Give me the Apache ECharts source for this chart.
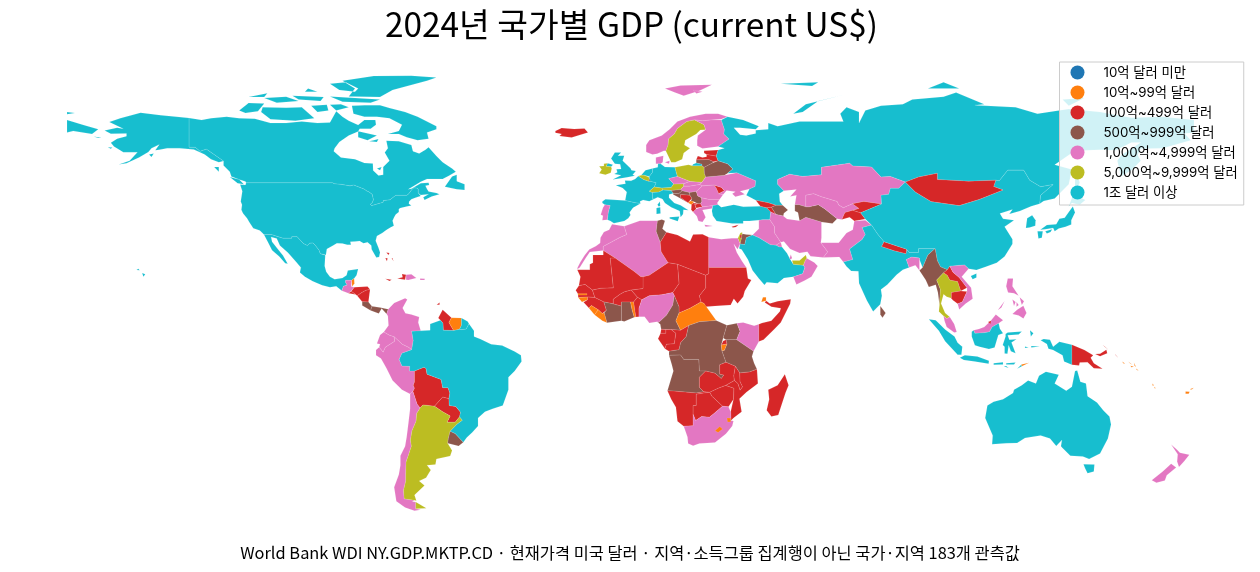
<!DOCTYPE html>
<html>
<head>
<meta charset="utf-8">
<title>2024 GDP</title>
<script src="https://cdn.jsdelivr.net/npm/echarts@6/dist/echarts.min.js"></script>
<style>html,body{margin:0;background:#fff}#main{width:1260px;height:572px}</style>
</head>
<body>
<div id="main"></div>
<script>
// GDP 구간 라벨과 색
const classLabels = ['10억 달러 미만','10억~99억 달러','100억~499억 달러','500억~999억 달러','1,000억~4,999억 달러','5,000억~9,999억 달러','1조 달러 이상'];
const classColors = ['#1f77b4','#ff7f0e','#d62728','#8c564b','#e377c2','#bcbd22','#17becf'];

// 구간별 국가
const under1 = ['Tuvalu'];
const from1to10 = ['Belize','Suriname','Gambia','Guinea-Bissau','Sierra Leone','Liberia','Togo','Central African Rep.','Burundi','Lesotho','Eswatini','Djibouti','Montenegro','Timor-Leste','Solomon Is.','Vanuatu','Fiji'];
const from10to50 = ['Honduras','El Salvador','Nicaragua','Bahamas','Jamaica','Haiti','Trinidad','Guyana','Bolivia','Paraguay','Iceland','Estonia','Latvia','Moldova','Bosnia','Kosovo','Albania','N. Macedonia','Cyprus','Georgia','Armenia','Palestine','Tajikistan','Kyrgyzstan','Mongolia','Nepal','Laos','Cambodia','Brunei','Papua New Guinea','Libya','Sudan','Chad','Niger','Mali','Mauritania','Senegal','Guinea','Burkina Faso','Benin','Gabon','Eq. Guinea','Congo','Rwanda','Zambia','Malawi','Mozambique','Zimbabwe','Botswana','Namibia','Madagascar','Somalia'];
const from50to100 = ['Costa Rica','Panama','Uruguay','Belarus','Lithuania','Luxembourg','Slovenia','Croatia','Serbia','Azerbaijan','Jordan','Turkmenistan','Myanmar','Sri Lanka','Tunisia',"Cote d'Ivoire",'Ghana','Cameroon','Dem. Rep. Congo','Uganda','Tanzania','Angola'];
const from100to500 = ['Guatemala','Dominican Rep.','Puerto Rico','Colombia','Ecuador','Peru','Chile','Norway','Denmark','Finland','Portugal','Greece','Czechia','Slovakia','Hungary','Bulgaria','Romania','Ukraine','Kazakhstan','Uzbekistan','Iran','Iraq','Kuwait','Qatar','Oman','Pakistan','Bangladesh','Vietnam','Malaysia','Philippines','New Zealand','Morocco','Algeria','Egypt','Nigeria','Kenya','South Africa'];
const from500to1000 = ['Argentina','Ireland','Belgium','Switzerland','Austria','Sweden','Poland','Israel','United Arab Emirates','Thailand'];
const over1000 = ['United States','Canada','Mexico','Brazil','United Kingdom','France','Germany','Netherlands','Italy','Spain','Russia','Turkey','Saudi Arabia','India','China','Japan','South Korea','Indonesia','Australia'];
const classMembers = [under1, from1to10, from10to50, from50to100, from100to500, from500to1000, over1000];

// 단순화한 국가 윤곽 (경도 위도 순)
const outlines = {
'United States':[
'-124.7 48.4 -123 48.3 -122.8 49 -95.2 49 -94.6 48.7 -92.5 48.5 -89.6 48 -88.4 48.3 -84.9 46.9 -84.5 46.5 -83.6 46.1 -82.5 45.3 -82.1 43.6 -82.5 42.6 -83.1 42.1 -82.7 41.7 -79 42.8 -79 43.3 -76.8 43.6 -75 45 -71.5 45 -71 45.3 -70.3 46.2 -70 46.7 -69.2 47.4 -68.3 47.3 -67.8 47 -67.8 45.7 -67 44.8 -68.5 44.3 -70 43.7 -70.7 43 -70.8 42.3 -70 41.7 -71.5 41.4 -73.5 40.9 -74 40.6 -74 39.7 -75 38.9 -75.5 38 -76 36.9 -75.6 35.3 -76.7 34.7 -78 33.9 -79.3 33 -81 32 -81.4 30.5 -80.5 28.3 -80 26.8 -80.3 25.3 -81.2 25.2 -81.8 26.2 -82.7 27.8 -82.8 29 -84 30 -85.3 29.7 -86.5 30.4 -88 30.3 -89.5 30.2 -89.3 29.2 -90.5 29.2 -92 29.6 -93.8 29.7 -95 29 -97 27.9 -97.3 26 -97.5 25.9 -99.1 26.4 -99.5 27.5 -100.6 28.9 -101.4 29.8 -102.5 29.7 -103.2 29 -104.5 29.6 -106.5 31.8 -108.2 31.8 -108.2 31.3 -111 31.3 -114.8 32.5 -117.1 32.5 -118.4 33.8 -120.5 34.5 -121.8 36.5 -122.5 37.7 -123.8 39.3 -124.3 40.4 -124.1 42 -124.5 43 -124 46.3',
'-141 69.6 -141 60.3 -139 60.3 -137.5 59 -135.5 59.7 -133 58 -130 55.9 -131.5 55.5 -134 56.5 -136 58 -139.5 59.6 -144 60 -148 60 -150.5 59.5 -151.8 59.3 -150.5 61.2 -153 60 -154 58.8 -157 57 -161 55.2 -163.5 54.8 -160 56 -157.5 58.7 -162 58.7 -165 60.5 -166 61.7 -164 63 -161 63.8 -161 64.7 -166 64.6 -168 65.6 -164 66.5 -162 66.2 -166.5 68.3 -163 69.5 -156.5 71.3 -150 70.5 -145 70',
'-171.5 63.7 -169 63.3 -170 63.2','-167 60.3 -165.5 60.2 -166 59.8','-153.8 58 -152.3 58.3 -153 57.2',
'-156 20.2 -155 19.8 -155.6 19','-157.2 21.6 -156.8 21.1 -157.8 21.2','-159.7 22.2 -159.3 22 -159.5 21.8','-160.3 22 -160 21.9 -160.1 21.7'],
Canada:[
'-141 69.6 -137 69 -134 69.5 -129 70 -125 69.5 -120 69.4 -115 68 -110 68 -105 68.5 -100 68 -96 68.2 -94 71.8 -92 70 -90 68.7 -87 67.4 -85 69 -81.5 69 -81.3 67.5 -83 66.2 -86.5 66.2 -87 65.3 -90 64 -93 62 -94.5 60 -94.8 59 -92.5 57 -88 56.5 -85 55.3 -82.3 55.1 -82.2 52.9 -80.5 51.3 -79 51.5 -79 54 -77 56 -78.5 58.6 -77.5 60 -78 62.4 -74 62.2 -70 61 -69.5 59 -67.5 58.3 -65.5 59.5 -64.5 60.3 -62 57.5 -60 55.5 -57 53.5 -55.8 52.5 -58 51.2 -60 50.2 -65 50.2 -67 49.3 -69.5 47.8 -71 46.9 -70 47.1 -67 48.8 -64.5 49 -64.3 48.3 -65.5 48 -65 47 -64.5 46.2 -62 45.7 -61 45.3 -63.5 44.6 -65.8 43.5 -66.2 44.4 -64.5 45.3 -67 45.1 -67.8 45.7 -67.8 47 -68.3 47.3 -69.2 47.4 -70 46.7 -70.3 46.2 -71 45.3 -71.5 45 -75 45 -76.8 43.6 -79 43.3 -79 42.8 -82.7 41.7 -83.1 42.1 -82.5 42.6 -82.1 43.6 -82.5 45.3 -83.6 46.1 -84.5 46.5 -84.9 46.9 -88.4 48.3 -89.6 48 -92.5 48.5 -94.6 48.7 -95.2 49 -122.8 49 -123 49.4 -125 50 -127.5 51 -128 52.5 -130 54.5 -130 55.9 -133 58 -135.5 59.7 -137.5 59 -139 60.3 -141 60.3',
'-128 50.8 -125 50 -123.5 48.5 -125.5 48.8','-133 54 -131.5 54 -131.5 52.5','-59.3 47.7 -57 51 -55.5 51.5 -55.5 49.5 -53 48.5 -53 46.7 -55.5 46.9',
'-80 73.7 -77 72.8 -72 71.5 -68 70 -62 67 -62 66 -65 65 -64.5 63 -68 62.5 -71.5 63.5 -74 64.5 -77.5 64.5 -74 65.5 -73 67.5 -77 69.5 -81 70 -85 70 -88.5 71 -89 73.5 -85 73.7',
'-117.5 73 -110 72.9 -105 73 -101 69.5 -107 68.7 -115 69.2 -118 71.5','-125 72 -122 74.4 -117 74.2 -119 71.8 -123 71.2','-117 76 -110 76.4 -106 75 -113 74.5','-96 76.5 -80 75.5 -83 74.5 -92 74.8',
'-90 76.5 -80 76.3 -76 78.5 -65 81.5 -62 82.5 -70 83.1 -82 83 -92 81.5 -88 79','-96 80.5 -91 81 -87 79 -88 78 -93 78.5','-102 73.5 -100 71.5 -96.5 72 -97 73.8','-96 73.8 -92.5 74 -90 73 -94 72','-87 65.4 -81 64 -84 62.5 -87 63.5','-122 76.3 -116 77.5 -117 76.3','-108 76.7 -98 76.3 -99 75 -106 75.5','-103 79 -100 78 -104 78','-80.5 62.9 -82 62.5 -83.5 62.2 -81 62','-79.5 54 -80 53 -81 53.5'],
Mexico:['-117.1 32.5 -114.8 32.5 -111 31.3 -108.2 31.3 -108.2 31.8 -106.5 31.8 -104.5 29.6 -103.2 29 -102.5 29.7 -101.4 29.8 -100.6 28.9 -99.5 27.5 -99.1 26.4 -97.5 25.9 -97.7 22.5 -97.2 20.6 -96 19 -94.5 18.2 -92 18.6 -90.7 19.5 -90.3 21 -87 21.5 -87.5 19.5 -88.3 18.5 -89.1 17.9 -91 17.9 -91 17.2 -90.5 16.4 -91.7 16 -92.2 14.6 -94 16 -96 15.7 -98.5 16.3 -101.5 17.6 -104 19 -105.6 20.4 -105.3 22 -107 24 -109.4 26.7 -112 29 -113 31.2 -114.8 31.7 -114.5 30.2 -112.8 28 -111 25.8 -109.5 23.2 -110.3 23.3 -112.2 25.5 -114.5 27.5 -115.8 30'],
Belize:['-89.1 17.9 -88.3 18.5 -88.2 16.9 -88.9 15.9 -89.2 15.9'],
Guatemala:['-91 17.2 -91 17.9 -89.1 17.9 -89.2 15.9 -88.2 15.7 -89.2 14.6 -90.1 13.8 -92.2 14.6 -91.7 16 -90.5 16.4'],
Honduras:['-88.2 15.7 -84 15.9 -83.2 15 -84.5 14.7 -86 13.9 -87.3 13 -87.8 13.4 -89.2 14.4 -89.2 14.6'],
'El Salvador':['-90.1 13.8 -89.2 14.4 -87.8 13.4 -88 13.2'],
Nicaragua:['-87.3 13 -86 13.9 -84.5 14.7 -83.2 15 -83.7 11 -85.7 11.1'],
'Costa Rica':['-85.7 11.1 -83.7 11 -82.6 9.6 -83 8.3 -85.7 9.9'],
Panama:['-83 8.3 -82.6 9.6 -80 9.2 -77.4 8.7 -77.9 7.2 -79.5 8.9 -80.4 7.3'],
Bahamas:['-78 26.8 -77 26.6 -77.3 26','-78.3 25 -77.6 24.9 -77.8 24','-76.3 25 -75.7 24 -76 24.9'],
Jamaica:['-78.3 18.4 -76.3 18.1 -77 17.7'],
Haiti:['-74.5 18.5 -72 18.1 -71.7 18.1 -71.7 19.7 -73 19.9 -72.8 18.9'],
'Dominican Rep.':['-71.7 19.7 -70 19.8 -68.4 18.6 -71 18 -71.7 18.1'],
'Puerto Rico':['-67.2 18.5 -65.7 18.4 -65.8 18 -67.2 18'],
Trinidad:['-61.9 10.1 -61 10.8 -61 10.1'],
Colombia:['-77.4 8.7 -75.5 10.7 -72 12.2 -71.3 11.8 -72.8 9.1 -71.9 7.4 -70 7 -67.5 6.2 -67.8 4.5 -67 1.8 -69.9 1.7 -69.4 -1.3 -69.9 -4.2 -70.8 -3.5 -72.9 -2.5 -75.5 -0.1 -77 0.4 -78.8 1.4 -77.3 3.5 -77.5 6.5 -77.9 7.2'],
Ecuador:['-78.8 1.4 -77 0.4 -75.5 -0.1 -75.3 -1.5 -78.3 -3.4 -79 -5 -80.3 -3.4 -80 -2.5 -81 -2.2 -80 0.5'],
Peru:['-80.3 -3.4 -79 -5 -78.3 -3.4 -75.3 -1.5 -75.5 -0.1 -72.9 -2.5 -70.8 -3.5 -69.9 -4.2 -73 -5.3 -73.9 -7.3 -73 -9.4 -70.5 -9.5 -70.6 -11 -69 -11 -69 -14.5 -69.4 -15.5 -69 -16.5 -69.5 -17.5 -70.4 -18.3 -73 -17 -76 -14 -78 -10 -79.7 -7 -81.3 -6 -81.3 -4.3'],
Bolivia:['-69 -11 -66 -9.8 -65.3 -10.2 -65 -12 -60.5 -13.7 -60 -16.3 -58.3 -16.3 -57.7 -18 -58 -19.8 -60 -19.3 -62.6 -22.2 -66.3 -21.8 -67.2 -22.8 -68.2 -21.5 -69 -19 -69.5 -17.5 -69 -16.5 -69.4 -15.5 -69 -14.5'],
Paraguay:['-58 -19.8 -57.9 -22 -55.8 -22.3 -54.3 -24.1 -54.6 -25.6 -56 -27.3 -58.6 -27.3 -57.6 -25.3 -60 -24 -62.6 -22.2 -60 -19.3'],
Chile:['-70.4 -18.3 -69.5 -17.5 -69 -19 -68.2 -21.5 -67.2 -22.8 -68.3 -24.5 -68.5 -27 -69.8 -30 -70.3 -33 -70 -35 -71 -38 -71.7 -40 -71.8 -44 -71.8 -46 -72.5 -49 -72.3 -51.7 -69 -52.2 -69.7 -52.6 -68.6 -52.7 -68.6 -54.9 -67 -55.2 -69 -55.5 -72 -54.5 -74.8 -52.5 -75.5 -48 -74 -44 -73.5 -41 -73.5 -38 -72 -35 -71.5 -32 -71 -28 -70.4 -23'],
Argentina:['-66.3 -21.8 -62.6 -22.2 -60 -24 -57.6 -25.3 -58.6 -27.3 -56 -27.3 -54.6 -25.6 -53.7 -26.7 -55.5 -28 -57.6 -30.2 -58.2 -32.5 -58.4 -34 -57 -36.3 -57.6 -38.1 -62 -39 -62.3 -40.8 -65 -41 -63.8 -42.5 -65.3 -45 -67.5 -46 -65.8 -47.5 -69 -50.5 -68.4 -52.3 -69 -52.2 -72.3 -51.7 -72.5 -49 -71.8 -46 -71.8 -44 -71.7 -40 -71 -38 -70 -35 -70.3 -33 -69.8 -30 -68.5 -27 -68.3 -24.5 -67.2 -22.8','-68.6 -52.7 -65.2 -54.7 -68.6 -54.9'],
Uruguay:['-58.2 -32.5 -57.6 -30.2 -56 -30.9 -53.4 -33.7 -54.9 -34.9 -58.4 -34'],
Guyana:['-61.4 5.9 -60 8.5 -57.2 6 -58 4.5 -56.5 1.9 -59.8 2 -59.9 4.2 -60.7 5.2'],
Suriname:['-57.2 6 -54 5.9 -54 3.6 -54.6 2.3 -56.5 1.9 -58 4.5'],
Brazil:['-69.9 1.7 -67 1.8 -64 2 -64 4 -60.7 5.2 -59.9 4.2 -59.8 2 -56.5 1.9 -54.6 2.3 -54 2.2 -52.5 2.4 -51.6 4.1 -50 1.8 -50 0 -48 -0.8 -44.5 -2.5 -41 -2.9 -37 -4.8 -35 -6 -34.8 -8 -37 -11 -39 -13 -39 -17 -40.8 -22 -44 -23 -46.5 -24 -48.7 -26 -48.7 -28.5 -50.5 -30.5 -52.3 -32.2 -53.4 -33.7 -56 -30.9 -57.6 -30.2 -55.5 -28 -53.7 -26.7 -54.6 -25.6 -54.3 -24.1 -55.8 -22.3 -57.9 -22 -58 -19.8 -57.7 -18 -58.3 -16.3 -60 -16.3 -60.5 -13.7 -65 -12 -65.3 -10.2 -66 -9.8 -69 -11 -70.6 -11 -70.5 -9.5 -73 -9.4 -73.9 -7.3 -73 -5.3 -69.9 -4.2 -69.4 -1.3'],
France:['2.5 51.1 4.2 50 5.8 49.5 6.2 49.5 8.2 49 7.6 47.6 6 46.3 7 45.9 7 44 7.5 43.8 6 43.1 4 43.5 3 43 3.2 42.4 1.5 42.6 -1.7 43.3 -1.2 46 -2.5 47.3 -4.7 48.2 -1.6 48.7 -1.8 49.7 0.2 49.6 1.5 50.2','8.6 42 9.4 43 9.5 41.6 9 41.4','-54 5.9 -52 4.8 -51.6 4.1 -52.5 2.4 -54 2.2 -54.6 2.3 -54 3.6'],
'United Kingdom':['-5.7 50 -3.5 50.3 -1 50.7 1.4 51.2 0.7 51.5 1.7 52.7 0.3 53 0 53.6 -1.5 55 -2.5 56 -2 57.6 -4 57.6 -3 58.6 -5 58.6 -6.2 56.7 -5 55 -3.3 54.9 -3 53.4 -4.5 53.3 -4.2 52.3 -5.2 51.8 -3 51.4','-7.3 55.2 -5.6 54.7 -6.2 54.1 -7.8 54.2'],
Ireland:['-10 52 -8 51.5 -6.3 52.2 -6 53.5 -6.2 54.1 -7.8 54.2 -7.3 55.2 -8.5 55 -8.5 54.3 -10 54.2 -9.2 53.2'],
Iceland:['-24 65.5 -22 66.4 -18 66.1 -14.7 66.3 -13.6 65 -18.8 63.4 -22.7 63.9 -22 64.5 -24 64.9'],
Norway:['5 58.8 7 58 8.5 58.2 10.7 59.2 11.3 59.1 12 61 12.2 63 14 64.5 15 66.3 18 68.5 20.5 69 23 68.7 25.7 69 28.9 69.2 31 70 28 71 24 71 19 70 15 68.5 12.5 66 10 64 6 62.5 5 61','11 79 16 80 26 80.2 22 78.3 17 76.7 14 77.8','20 78.5 23 78 21 77.4'],
Sweden:['11.3 59.1 13 55.5 14.3 55.5 16.5 56.5 17 58.5 19 60 17.2 61 17.5 62.5 21 64.5 22.3 65.8 24 65.9 23.5 67.5 20.5 69 18 68.5 15 66.3 14 64.5 12.2 63 12 61'],
Finland:['23.5 67.5 24 65.9 21.5 64 21.3 62.5 21.3 60.8 23 59.9 25.5 60.2 28 60.5 31.5 62.9 29.8 64.5 30 66 29 69 28.9 69.2 25.7 69 23 68.7 20.5 69'],
Denmark:['8.1 55 8.1 57 10.5 57.6 10.3 55.5 9.6 55','11 55.5 12.5 56 12.3 55'],
Germany:['7 53.5 8.7 53.9 8.8 55 9.6 55 11 54 14.2 53.9 14.7 52 15 51 12.2 50.3 13.8 48.6 13 47.5 10 47.3 7.6 47.6 8.2 49 6.2 49.5 6.4 49.8 6 50.2 6 51 7 52.3'],
Netherlands:['3.4 51.4 4.8 53 7 53.5 7 52.3 6 51 5.8 50.8 4.3 51.4'],
Belgium:['2.5 51.1 3.4 51.4 4.3 51.4 5.8 50.8 6 50.2 5.8 49.5 4.2 50'],
Luxembourg:['5.8 49.5 6 50.2 6.4 49.8 6.2 49.5'],
Spain:['-9 43 -8 43.7 -1.7 43.3 1.5 42.6 3.2 42.4 0.8 41 -0.3 39.5 0 38.7 -0.7 37.7 -2 36.8 -5.3 36.1 -6.4 36.8 -7.4 37.2 -7.1 39.6 -6.5 41.7 -8.2 42 -9 42.5'],
Portugal:['-8.2 42 -6.5 41.7 -7.1 39.6 -7.4 37.2 -9 37 -8.8 38.5 -9.5 38.8 -8.8 41'],
Switzerland:['6 46.3 7.6 47.6 10 47.3 10.4 46.7 9 46 7 45.9'],
Austria:['10 47.3 13 47.5 13.8 48.6 17 48.7 17 47.9 16 46.8 13 46.5 10.4 46.7'],
Italy:['7 45.9 9 46 10.4 46.7 13 46.5 13.7 45.6 12.3 45.2 12.3 44.2 14 42.5 16 41.8 18.5 40.2 16.9 40.4 16.8 39 16 38 15.7 38.3 15.7 40 13 41.2 11 42.5 10.2 43.8 8.7 44.4 7.5 43.8 7 44','12.5 38 15.6 38.2 15.1 36.7 12.5 37.6','8.3 39 8.3 40.9 9.5 41.2 9.6 39.2'],
Poland:['14.2 53.9 18.5 54.7 19.7 54.4 22.8 54.4 23.5 53.9 23.6 52 24 50.8 22.8 49.1 19 49.4 15 51 14.7 52'],
Czechia:['12.2 50.3 15 51 19 49.4 17 48.7 13.8 48.6'],
Slovakia:['17 48.7 19 49.4 22.8 49.1 22.1 48.4 18.8 47.9 17 47.9'],
Hungary:['16 46.8 17 47.9 18.8 47.9 22.1 48.4 23 48 21 46.2 18.8 45.9 16.5 46.4'],
Slovenia:['13.7 45.6 13 46.5 16 46.8 16.5 46.4 15.4 45.5'],
Croatia:['13.6 45.2 13.7 45.6 15.4 45.5 16.5 46.4 18.8 45.9 19 45 16 45.2 16 44.3 18.5 42.5 15 44.5'],
Bosnia:['16 45.2 19 45 19.6 44 18.7 43 18.5 42.5 16 44.3'],
Serbia:['18.8 45.9 21 46.2 21.5 44.8 22.7 44.2 22.8 43 22.4 42.3 21.5 42.3 20.3 42.9 19.3 43.2 19.6 44 19 45'],
Montenegro:['18.5 42.5 18.7 43 19.3 43.2 20.3 42.9 19.5 42'],
Kosovo:['20.1 42.6 20.3 42.9 21.5 42.3 20.6 42'],
Albania:['19.5 42 20.1 42.6 20.6 42 21 40.6 20 39.7 19.4 40.4'],
'N. Macedonia':['20.6 42 21.5 42.3 22.4 42.3 23 41.3 21 40.9'],
Greece:['20 39.7 21 40.6 23 41.3 26.3 41.7 26 40.8 23 40.3 24 38 23 36.5 21.7 36.8 21.2 38.3','23.6 35.6 26.3 35.2 24 35'],
Bulgaria:['22.7 44.2 25 43.7 28.5 43.7 27.7 42.5 28 42 26.3 41.7 23 41.3 22.4 42.3 22.8 43'],
Romania:['23 48 26.6 48.3 27.3 47.5 28.2 45.5 29.6 45.2 28.5 43.7 25 43.7 22.7 44.2 21.5 44.8 21 46.2'],
Moldova:['26.6 48.3 29.1 47.5 30 46.4 28.2 45.5 27.3 47.5'],
Ukraine:['22.1 48.4 22.8 49.1 24 50.8 30 51.4 34 52.2 40 49.6 39.8 47.8 38 47 35 46.3 36.5 45.3 33.5 44.5 32.5 45.5 33.5 46.1 30.7 46.5 29.6 45.2 28.2 45.5 30 46.4 29.1 47.5 26.6 48.3 23 48'],
Belarus:['23.6 52 23.5 53.9 26 55.2 28 56 31 55 32.7 53.4 31 52 30 51.4 24 50.8'],
Lithuania:['21 55.3 21 56.3 25 56.4 26.6 55.7 26 55.2 23.5 53.9 22.8 54.4 22.8 54.9'],
Latvia:['21 56.3 21.5 57.5 23 57 24.3 57.3 24.3 58 27.4 57.5 28 56 26.6 55.7 25 56.4'],
Estonia:['23.5 59.2 28 59.4 27.4 57.5 24.3 58 23.5 58.5'],
Russia:[
'40 43.4 37 45 38 47 39.8 47.8 40 49.6 34 52.2 31 52 32.7 53.4 31 55 28 56 27.4 57.5 28 59.4 30 60 28 60.5 31.5 62.9 29.8 64.5 30 66 29 69 31 70 36 69 41 67 40 66 35 66.5 33 66.5 35 64.3 37 64 40 64.7 40 65.7 44 66 44 68 47 67 54 68.5 60 68.5 68 68.5 67 71 69 73 73 71.5 73 68 75 72 80 73.5 87 74 90 75.5 100 76.4 104 77.7 113 74 110 73.7 113.5 73.5 123 73 130 71 140 72.5 150 71.5 160 69.7 170 70 180 69 180 65 177 64.7 179 62.5 170 60 163 59.8 162 57.8 163 56 160 53 156.7 51 155.5 56 156.8 57.8 163 61.8 160 61.8 155 59.3 150 59.5 142 59.2 135.5 54.7 141 53.2 140 48.5 135.5 44 132 43.2 130.7 42.3 131 45 135 48.4 131 47.7 127.5 49.8 125.6 53 120.5 53 117.8 49.6 116.7 49.8 108 49.5 98 50 98 52 92 50.8 87.8 49.2 83 51 80 50.8 77 54 71 54.3 70 55.2 61 53.9 61 51.5 55 51 50.8 51.7 47 50 47 48.5 49 46.4 47.5 45.5 47.7 43 48.6 41.8 46.5 41.8 44 42.6',
'19.7 54.4 22.8 54.4 22.8 54.9 21 55.3 20 54.9','142 54.3 143.5 49 142 46 142 50','52 71 56 74 68 76.9 60 75 55 71.5','95 79 100 81 105 79','138 75.5 145 76 140 73.5','48 80.5 60 81 58 79.8','-180 69 -175 67.5 -170 66 -172 64.5 -178 65.5 -180 65','-180 71.5 -177.5 71.2 -180 70.8','178 71.5 180 71.5 180 70.8'],
Turkey:['26 40 26.3 41.7 28 42 29 41.2 33 42 36 41.3 41.5 41.5 43.5 41 44.8 39.7 44.5 37.2 42.3 37.2 38 36.8 36 36.8 36 36 32.5 36 30.5 36.3 27.5 36.8 26.3 38.5'],
Cyprus:['32.3 35 34.5 35.6 33.7 34.9 32.7 34.7'],
Georgia:['40 43.4 44 42.6 46.5 41.8 45 41.2 43.5 41 41.5 41.5'],
Armenia:['43.5 41 45 41.2 46.5 38.9 44.8 39.7'],
Azerbaijan:['45 41.2 46.5 41.8 48.6 41.8 50.3 40.3 49 39.3 48.8 38.4 46.5 38.9'],
Iran:['44.8 39.7 46.5 38.9 48.8 38.4 50 37.4 54 36.9 56 38 61 36.5 61 31.5 60.8 29.9 63 27 61.6 25.2 57.5 25.6 56.5 27 54 26.6 51 27.9 49 30.3 48 30 46 33 46 35 44.5 37.2'],
Iraq:['42.3 37.2 44.5 37.2 46 35 46 33 48 30 46.5 29.1 44.7 29.2 41 31.5 39 32.3 41 34.3 41 37'],
Israel:['34.3 31.3 35 29.5 35.5 31.5 35.7 33.2 35.1 33'],
Palestine:['35 31.4 35.5 31.5 35.5 32.4 35 32.4'],
Jordan:['35 29.5 36.5 29.3 37 31.5 39 32.3 37 32.5 35.7 32.7 35.5 31.5'],
Kuwait:['46.5 29.1 48 30 48.4 28.5 47.5 28.5'],
'Saudi Arabia':['34.7 28 35 29.5 36.5 29.3 37 31.5 39 32.3 41 31.5 44.7 29.2 46.5 29.1 47.5 28.5 48.4 28.5 50 26.5 51 24.6 52 23 55.2 22.7 55.7 22 55 20 52 19 49 18.6 47 17 43.5 17.3 42.8 16.4 41 18.5 39 21 37.5 24.5 35.5 27.7'],
Oman:['56.3 24.9 58.7 23.6 59.8 22.5 57.8 19 55.5 17.8 53 16.6 52 19 55 20 55.7 22 55.2 22.7 55.8 24.2'],
'United Arab Emirates':['51.6 24.2 54 24.2 56 26 56.3 24.9 55.8 24.2 55.2 22.7 52 23'],
Qatar:['50.8 24.8 51.2 26.1 51.6 25 51.3 24.6'],
Kazakhstan:['47 50 50.8 51.7 55 51 61 51.5 61 53.9 70 55.2 71 54.3 77 54 80 50.8 83 51 87.8 49.2 85.7 47.2 83 47.2 82.5 45.3 80 45 80.2 42.2 74.5 43 70.9 42.3 68 41 66.5 41.9 66 43 61 44.5 58.5 45.5 56 45 56 41.3 53.8 42 52.5 42 53 45 51 44.6 53 46.8 49 46.4 47 48.5'],
Turkmenistan:['52.5 42 53.8 42 56 41.3 57 41.3 60 42 62 40.7 66 37.5 64.5 36 61 36.5 56 38 54 36.9 53.5 39.5 52.5 40'],
Uzbekistan:['56 45 58.5 45.5 61 44.5 66 43 66.5 41.9 68 41 70.9 42.3 73 40.8 71 40.2 68.5 39.5 67.5 37.3 66 37.5 62 40.7 60 42 57 41.3 56 41.3'],
Tajikistan:['67.5 37.3 68.5 39.5 71 40.2 73.5 39.4 75 37.4 71.5 36.8 70 38'],
Kyrgyzstan:['70.9 42.3 74.5 43 80.2 42.2 73.5 39.4 71 40.2 73 40.8'],
Pakistan:['60.8 29.9 63 27 61.6 25.2 66.7 25.3 68 23.7 71 24.5 70 27.9 74 30.9 75 32.5 74 34.7 77 35.5 75 37 71.5 36.8 71 34 69 33 66.5 29.9'],
India:['74 34.7 77 35.5 79 32.6 81 30.2 80.2 28.7 84 27.4 88 26.4 88.2 27.8 89 26.8 92 26.8 92 28 97.3 28 95 26 93.3 22 92.3 24.5 92.3 25 89.8 25.3 88.1 24.5 89 22 87 21.3 85 19.7 82 16.5 80 15 80.3 13 79.8 10.3 77.5 8 75.5 11.5 73 17 72.8 20.8 70.5 20.9 69 22.3 68 23.7 71 24.5 70 27.9 74 30.9 75 32.5'],
Nepal:['80.2 28.7 81 30.2 88.2 27.8 88 26.4 84 27.4'],
Bangladesh:['88.1 24.5 89.8 25.3 92.3 25 92.3 21 91 22.7 89 22'],
'Sri Lanka':['79.8 9.7 81.5 7.5 80.5 6 79.8 7'],
China:['73.5 39.4 80.2 42.2 80 45 82.5 45.3 83 47.2 85.7 47.2 87.8 49.2 91 46 96 43 105 41.7 111.5 43.7 119 46.7 116 47.8 116.7 49.8 117.8 49.6 120.5 53 125.6 53 127.5 49.8 131 47.7 135 48.4 131 45 130.7 42.3 128 41.5 124.4 40 121 39 122 40.5 118 39.2 119 37.5 122.5 37 119.5 35 122 31 122 29.5 119.5 25.5 117 23.5 113.5 22.2 110.5 21.2 108 21.6 106.7 22.8 102 22.4 101.2 21.3 99 22.2 98 24.2 97.3 28 92 28 92 26.8 89 26.8 88.2 27.8 81 30.2 79 32.6 77 35.5 75 37.4','108.7 19.3 110.5 20.1 110.5 18.8 109.3 18.2'],
Mongolia:['87.8 49.2 92 50.8 98 52 98 50 108 49.5 116.7 49.8 116 47.8 119 46.7 111.5 43.7 105 41.7 96 43 91 46'],
Myanmar:['97.3 28 98 24.2 99 22.2 101.2 21.3 100 20.3 97.8 18 99 15 98.7 10 98.2 14 97.5 16.5 95.3 15.8 94.3 18 92.3 21 93.3 22 95 26'],
Thailand:['100 20.3 101.2 19.5 102 18 104.5 17.5 105.5 14.5 102.5 14 102.5 12.2 101 12.7 100 13.5 99.2 10.5 100.5 7.5 102 6.2 101 5.7 100 6.5 98.5 8 98.7 10 99 15 97.8 18'],
Laos:['100 20.3 101.2 21.3 102 22.4 103 20.5 105 18.8 107.5 15.5 105.5 14.5 104.5 17.5 102 18 101.2 19.5'],
Cambodia:['102.5 14 105.5 14.5 107.5 14.3 106 11 104.5 10.4 102.9 11.6 102.5 12.2'],
Vietnam:['102 22.4 106.7 22.8 108 21.6 105.8 19 108.8 15.5 109.3 12 107 10.4 105 8.6 104.5 10.4 106 11 107.5 14.3 107.5 15.5 105 18.8 103 20.5'],
Malaysia:['100 6.5 101 5.7 102 6.2 103.4 4 104.2 1.4 103.4 1.3 101 3 100.3 5','109.6 2 111.3 2.4 113 3 115 4.9 116.7 7 119 5.2 117.6 4.2 115.5 3 114.7 1.5 113 1.2 110 1'],
Brunei:['114.2 4.6 115.2 5 115 4'],
Indonesia:['109 1.5 109.6 2 110 1 113 1.2 114.7 1.5 115.5 3 117.6 4.2 118 2.5 119 1 117.5 0.5 116.3 -3.5 114.5 -4 111.5 -3.3 110 -2.8 109 0',
'95.3 5.5 97.5 5.2 100.5 2.2 103.5 0 104.5 -2 106 -3.3 105.7 -5.8 104.5 -5.8 100.5 -1.5 98.5 1.8','105.2 -6.8 106.8 -6 110.8 -6.4 114.5 -7.7 114.4 -8.7 110 -8 106.5 -7.5','116 -8.5 119 -8.2 119 -8.9 116 -9','120 -8.5 123 -8.3 122.5 -8.9 120 -8.9','123.5 -10.3 124.9 -8.9 125 -9.5','119.2 -9.5 120.8 -10 120 -9.4',
'119.8 0.8 120.5 1.3 125 1.6 124 0.6 120.5 0.4 121 -1 123.3 -0.9 121.7 -1.9 123 -5.3 121.5 -4.7 120.8 -2.8 120.4 -5.5 119.5 -5.4 119.5 -3.3 118.9 -2.7 119.8 0','127.6 2 128.7 1 127.9 0 128 -0.8','128 -3 130.8 -3.2 128 -3.5','126 -3.2 127.2 -3.5 126 -3.7',
'141 -2.6 137 -1.7 135 -3.3 134 -1 132 -0.8 131 -1.2 133 -2.4 133.5 -3.9 135 -4.3 138 -6 138.5 -8 141 -9'],
'Timor-Leste':['124.9 -8.9 127.3 -8.4 125 -9.5'],
'Papua New Guinea':['141 -2.6 145 -4.3 147.8 -6 147 -6.8 148 -8.5 150.8 -10.3 148 -10.1 146 -8.2 143.5 -8.3 143.3 -9.2 141 -9','148.4 -5.6 150 -5.5 152 -4.2 152.3 -5.3 150 -6.3','150.8 -2.7 152.8 -4.4 153 -4.7 151.5 -3.2','154.7 -5.5 155.9 -6.9 155 -6'],
'Solomon Is.':['157 -8 158 -8.6 157.5 -8.6','159 -8 160.3 -9 159.6 -8.6','160.8 -8.4 161.5 -9.7 161 -9.3','159.7 -9.3 160.8 -9.6 160 -9.8','161.5 -10.2 162.3 -10.8 161.7 -10.7'],
Vanuatu:['166.7 -15 167.2 -15.5 166.8 -15.7','167.3 -16 167.8 -16.5 167.4 -16.5','168.2 -17.5 168.5 -17.8 168.1 -17.8'],
Fiji:['177.3 -17.5 178.6 -17.6 178.3 -18.2 177.3 -18.2','178.6 -16.8 179.9 -16.3 179.3 -16.9','-180 -16.3 -179.8 -16.6 -180 -16.7'],
Australia:['114 -22 116 -20.8 119 -20 122.2 -18 122.5 -17 125 -15.5 127 -14 129.5 -15 130.5 -12.5 132.7 -11.2 136.8 -12.2 135.5 -15 139.2 -17.3 141 -16 142 -11 142.7 -10.8 143.7 -14.4 145.5 -15 146 -19 149 -21 151 -23.5 153 -25.5 153.5 -28 152.5 -32.5 150 -37.3 146.5 -39 144.5 -38.2 140.5 -38 138 -35.5 137.5 -35 137.8 -33 136 -34.9 134 -32.5 131 -31.5 126 -32.3 123.5 -33.9 120 -34 115.5 -34.3 115.7 -31.5 113.3 -26','144.7 -40.7 148.2 -40.8 148 -43 146 -43.6 145.2 -42'],
'New Zealand':['172.7 -34.4 174.5 -36 175.5 -37 178.5 -37.7 177 -39.6 175.2 -41.6 174.6 -39.8 174.8 -37.5','172.7 -40.5 174.3 -41.7 171.3 -44.2 170.7 -45.9 168 -46.6 166.5 -45.8 170 -43'],
Japan:['130.9 34 133 35.5 136 35.8 137 37.5 138.7 37.8 140 39.7 141.3 41.4 142 39.5 140.8 37 140.8 35.7 139 35 136.8 34.4 135.5 33.5 135 34.6 132.5 34.2','140 41.5 141.5 45.5 145.3 43.5 143.5 42 141 42.5','130 33.5 131.7 33.5 131.4 31.5 130.3 31.2','132.5 33.5 134.7 34.2 134.2 33.3 133 32.8'],
'South Korea':['126.3 34.6 126.7 37.7 128.3 38.6 129.4 37 129.3 35.3 127.5 34.7'],
Philippines:['120.5 18.5 122.2 18.5 122 16 124 13 122.5 13.8 120.6 14 120 16','122 7.2 123.5 8.5 125.5 9.8 126.5 7.5 125.5 5.7 124 6.7','122 11.8 123 11 122.5 9.7','124.3 12.5 125.7 11.2 125 10','117.3 8.4 119.5 11.3 118.5 9.2','123.3 11 124 10 123.3 9.5'],
Morocco:['-5.9 35.8 -2 35.1 -1.2 32.5 -3.5 31.5 -8.7 28.7 -8.7 27.4 -13 26.9 -14.3 25 -16.2 22 -17 21.4 -16.9 22 -16 23.7 -14.7 25.8 -13.2 27.7 -11 28.8 -9.7 29.8 -9.6 31.5 -8.5 33.3 -6.8 34'],
Algeria:['-2 35.1 3 36.9 8.6 36.9 8.2 33.5 9.5 30 9.8 27 12 23.5 6 19.5 4 19 3.3 19 1.2 20.7 -4.9 25 -8.7 27.4 -8.7 28.7 -3.5 31.5 -1.2 32.5'],
Tunisia:['8.6 36.9 10 37.3 11 36.9 10.2 34.3 11.5 33.2 9.5 30 8.2 33.5'],
Libya:['11.5 33.2 15 32.3 19 30.3 20 32.5 23 32.6 25 31.6 25 20 24 19.5 15 23 12 23.5 9.8 27 9.5 30'],
Egypt:['25 31.6 29 31 32.3 31.3 34.3 31.3 35 29.5 34.2 27.8 33 29.5 34 26.7 35.7 23.9 37 22 25 22'],
Sudan:['25 22 37 22 37.5 18.5 38.6 18 36.5 14.5 36 12.7 34.2 10.5 33 12 32 10 27 9.7 24 9.5 23.5 10.5 22.5 11 22 13 24 15.5 24 19.5 25 20'],
Chad:['15 23 24 19.5 24 15.5 22 13 22.5 11 19 9 15.5 7.5 15.5 9.5 14 13 13.5 14 15.5 16.9'],
Niger:['12 23.5 15 23 15.5 16.9 13.5 14 10 13.3 6 13 3.6 11.7 2.2 12.5 0.2 14.8 4 15.3 4 19 6 19.5'],
Mali:['-12.2 14.8 -11.4 12.4 -8.5 11 -5.5 10.4 -5.5 11.9 -3.3 13.5 -2 14.2 0.2 14.8 4 15.3 4 19 3.3 19 1.2 20.7 -4.9 25 -6.5 25 -5.5 15.5 -9.5 15.4'],
Mauritania:['-17 21.3 -13 21.3 -13 23 -12 23.5 -12 26 -8.7 26 -8.7 27.4 -4.9 25 -6.5 25 -5.5 15.5 -9.5 15.4 -12.2 14.8 -14.5 16.6 -16.5 16.2 -16 19'],
Senegal:['-16.5 16.2 -14.5 16.6 -12.2 14.8 -11.4 12.4 -13.7 12.6 -16.7 12.4 -16.8 13.6 -17.5 14.7'],
Gambia:['-16.8 13.7 -13.9 13.7 -13.9 13.2 -16.8 13.2'],
'Guinea-Bissau':['-16.7 12.4 -13.7 12.6 -13.7 11.7 -15.5 11'],
Guinea:['-13.7 12.6 -11.4 12.4 -8.5 11 -7.7 8.4 -9 7.3 -10.3 8.5 -12.5 9.9 -13.3 9.1 -15 10.9 -13.7 11.7'],
'Sierra Leone':['-13.3 9.1 -12.5 9.9 -10.3 8.5 -11.5 6.9'],
Liberia:['-11.5 6.9 -10.3 8.5 -9 7.3 -8.4 7.6 -7.5 4.4 -9 5'],
"Cote d'Ivoire":['-7.5 4.4 -8.4 7.6 -7.7 8.4 -8.5 11 -5.5 10.4 -2.9 9.7 -2.9 5'],
'Burkina Faso':['-5.5 10.4 -5.5 11.9 -3.3 13.5 -2 14.2 0.2 14.8 2.2 12.5 1 11 -2.9 11 -2.9 9.7'],
Ghana:['-2.9 5 -2.9 11 0 11 0.5 8.5 1.2 6.1 -2 4.8'],
Togo:['0 11 1 11 1.7 6.2 1.2 6.1 0.5 8.5'],
Benin:['1 11 2.2 12.5 3.6 11.7 2.7 9 2.7 6.3 1.7 6.2'],
Nigeria:['2.7 6.3 2.7 9 3.6 11.7 6 13 10 13.3 13.5 14 14 13 13.5 10 11.5 6.8 9 4.5 8.5 4.7 6 4.3 4.5 6.3'],
Cameroon:['8.5 4.7 9 4.5 11.5 6.8 13.5 10 14 13 15.5 9.5 15.5 7.5 14.5 5 16 2 13 2.2 9.8 2.3 9.5 3.9'],
'Central African Rep.':['15.5 7.5 19 9 22.5 11 23.5 10.5 27.4 5.1 22 4.7 18.6 3.5 16 2 14.5 5'],
'Eq. Guinea':['9.8 2.3 11.3 2.2 11.3 1 9.6 1'],
Gabon:['9.6 1 11.3 1 11.3 2.2 13 2.2 14.5 1 14 -2.3 11.5 -2.5 11 -3.9 8.8 -0.7'],
Congo:['13 2.2 16 2 18.6 3.5 17.8 0 16 -2 15.5 -4.2 12.3 -4.7 11 -3.9 11.5 -2.5 14 -2.3 14.5 1'],
'Dem. Rep. Congo':['18.6 3.5 22 4.7 27.4 5.1 30.8 3.6 29.6 -0.5 29 -2.7 29.2 -4.5 30.5 -8.2 28.5 -9 28.5 -12 29.8 -12.3 29 -13.4 27 -11.7 24 -11 22 -11 21.8 -7.3 17 -7.3 16 -5.9 12.3 -6 12.3 -4.7 15.5 -4.2 16 -2 17.8 0'],
Uganda:['30.8 3.6 34 4.2 35 1.7 33.9 -1 30.5 -1 29.6 -0.5'],
Kenya:['34 4.2 36 4.5 39.5 3.4 41 3.9 41 -1.6 39.3 -4.7 33.9 -1 35 1.7'],
Tanzania:['30.5 -1 33.9 -1 39.3 -4.7 38.8 -6.4 39.5 -8.5 40.4 -10.4 38 -11.3 34.9 -11.6 33.5 -9.5 30.5 -8.2 29.2 -4.5 30 -4.4 30.8 -2.4'],
Rwanda:['29 -2.7 29.6 -1.4 30.5 -1 30.8 -2.4'],
Burundi:['29 -2.7 30.8 -2.4 30 -4.4 29.2 -4.5'],
Angola:['12.3 -6 16 -5.9 17 -7.3 21.8 -7.3 22 -11 24 -11 22 -13 22 -16.2 23.4 -17.6 21 -18 13.9 -17.4 11.8 -17.3 13.7 -11 13.2 -9'],
Zambia:['24 -11 27 -11.7 29 -13.4 29.8 -12.3 28.5 -12 28.5 -9 30.5 -8.2 33.5 -9.5 33 -12.5 33.2 -14 30.4 -15.6 28 -16.5 25.3 -17.8 23.4 -17.6 22 -16.2 22 -13'],
Malawi:['33.5 -9.5 34.9 -11.6 35 -14.4 35.8 -16 35 -17.1 34.3 -15 33.2 -14 33 -12.5'],
Mozambique:['34.9 -11.6 38 -11.3 40.4 -10.4 40.7 -15 37 -17.8 34.8 -19.8 35.5 -24 32.9 -26 32.1 -26.8 32 -24 32.9 -20 33 -16.5 30.4 -15.6 33.2 -14 34.3 -15 35 -17.1 35.8 -16 35 -14.4'],
Zimbabwe:['25.3 -17.8 28 -16.5 30.4 -15.6 33 -16.5 32.9 -20 31.3 -22.4 29.4 -22.2 26 -19'],
Namibia:['11.8 -17.3 13.9 -17.4 21 -18 23.4 -17.6 25.3 -17.8 23.4 -18 21 -18.4 21 -22 20 -22 20 -28.4 17 -28.6 15 -27 14.5 -22.5 13 -20'],
Botswana:['21 -18.4 23.4 -18 25.3 -17.8 26 -19 29.4 -22.2 26.7 -24.5 25.2 -25.7 22.7 -25.5 20.8 -26.8 20 -24.8 20 -22 21 -22'],
'South Africa':['17 -28.6 20 -28.4 20 -24.8 20.8 -26.8 22.7 -25.5 25.2 -25.7 26.7 -24.5 29.4 -22.2 31.3 -22.4 32 -24 32.1 -26.8 32.9 -26.9 32.5 -28.5 30.5 -31 27 -33.8 22 -34.1 20 -34.8 18.4 -34.1 18.2 -32'],
Lesotho:['27 -30 28.5 -28.7 29.4 -29.5 28 -30.6'],
Eswatini:['30.8 -26 32 -26 32 -27.2 31 -27.2'],
Madagascar:['49.3 -12 50.5 -15.5 49.5 -18 47.2 -25 45 -25.5 43.5 -23.5 44.3 -20 44 -17 47 -15.5'],
Somalia:['42.9 10.8 43.3 11.4 44.5 10.5 47 11.2 51.2 11.9 51 10.4 48 4.5 46 2.4 42.5 -1 41 -1.6 41 3.9 42 4.3 45 5 47.7 8 48 9 45 9.5'],
Djibouti:['41.8 11 43.3 11.4 43.3 12.5 42.3 12.5']
};

function toGeoJson(shapes) {
  const features = Object.keys(shapes).map(name => ({
    type: 'Feature',
    properties: { name: name },
    geometry: {
      type: 'MultiPolygon',
      coordinates: shapes[name].map(ring => {
        const nums = ring.split(' ').map(Number);
        const pts = [];
        for (let i = 0; i < nums.length; i += 2) pts.push([nums[i], nums[i + 1]]);
        pts.push(pts[0]);
        return [pts];
      })
    }
  }));
  return { type: 'FeatureCollection', features: features };
}

const seriesData = [];
classMembers.forEach((names, idx) => {
  names.forEach(n => seriesData.push({ name: n, value: idx }));
});

echarts.registerMap('gdpWorld', toGeoJson(outlines));

const FONT = '"Noto Sans CJK KR", "Noto Sans", sans-serif';
const LEGEND_FONT = 'Inter, "Noto Sans CJK KR", sans-serif';
const chart = echarts.init(document.getElementById('main'));
chart.setOption({
  animation: false,
  backgroundColor: '#fff',
  title: [
    { text: '2024년 국가별 GDP (current US$)', left: 626.5, textAlign: 'center', top: 3, textStyle: { fontFamily: FONT, fontSize: 33.4, fontWeight: 'normal', color: '#000' } },
    { text: 'World Bank WDI NY.GDP.MKTP.CD · 현재가격 미국 달러 · 지역·소득그룹 집계행이 아닌 국가·지역 183개 관측값', left: 625, textAlign: 'center', top: 540, textStyle: { fontFamily: FONT, fontSize: 16.4, fontWeight: 'normal', color: '#000' } }
  ],
  visualMap: {
    type: 'piecewise',
    inverse: true,
    align: 'left',
    left: 1059,
    top: 61.5,
    padding: [3.5, 6, 5.5, 11],
    itemSymbol: 'circle',
    itemWidth: 14,
    itemHeight: 14,
    itemGap: 6,
    textGap: 19,
    hoverLink: false,
    selectedMode: false,
    backgroundColor: 'rgba(255,255,255,0.8)',
    borderColor: '#ccc',
    borderWidth: 1,
    textStyle: { fontFamily: LEGEND_FONT, fontSize: 13.3, color: '#000' },
    pieces: classLabels.map((label, i) => ({ value: i, label: label, color: classColors[i], symbol: 'circle' }))
  },
  series: [{
    type: 'map',
    map: 'gdpWorld',
    roam: false,
    silent: true,
    aspectScale: 1,
    boundingCoords: [[-180, 90], [180, -90]],
    left: 67,
    top: 54,
    width: 1127,
    height: 565,
    showLegendSymbol: false,
    label: { show: false },
    emphasis: { disabled: true },
    select: { disabled: true },
    itemStyle: { borderColor: 'rgba(255,255,255,0.3)', borderWidth: 0.4, areaColor: '#fff' },
    data: seriesData
  }]
});
</script>
</body>
</html>
